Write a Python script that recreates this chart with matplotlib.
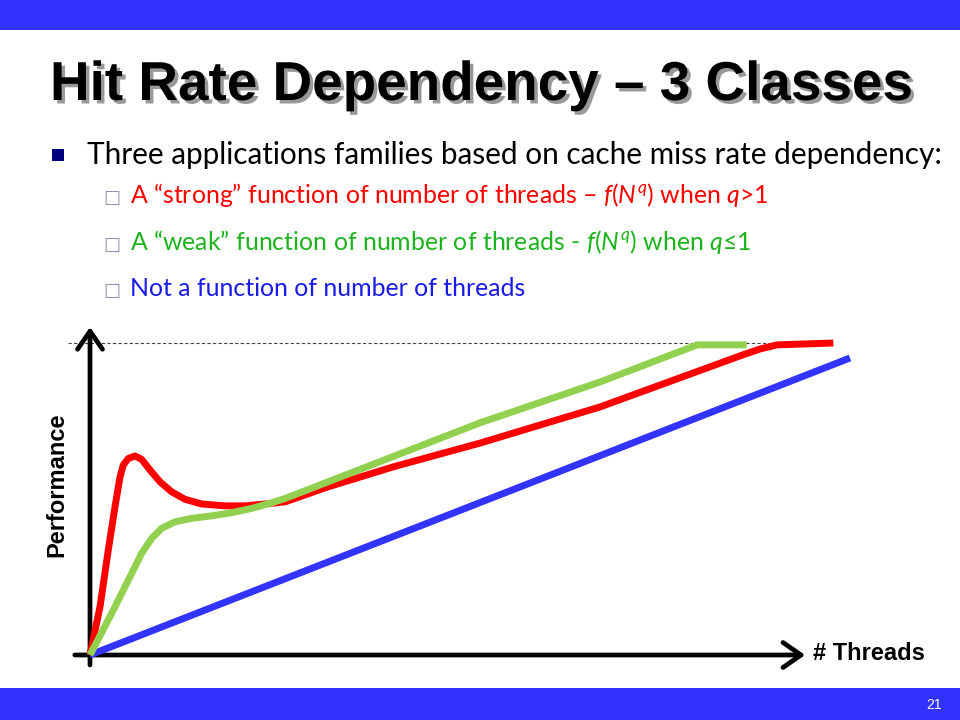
"""Slide: hit rate dependency, three application classes."""

import matplotlib
matplotlib.use('Agg')
import matplotlib.pyplot as plt
import matplotlib.patheffects as pe
from matplotlib.patches import Rectangle

# curves (threads, performance), 100 = saturation level
red_x = [0, 1.32, 2.41, 3.29, 3.95, 4.38, 5.04, 5.92, 6.80, 7.89, 9.21, 10.75,
         12.5, 14.7, 17.8, 20.4, 23.0, 25.7, 31.2, 39.9, 51.3, 67.1, 85.9,
         88.2, 90.4, 97.8]
red_y = [0, 15.5, 33.7, 47.5, 57.1, 60.9, 63.0, 63.8, 62.7, 59.3, 55.5, 52.3,
         49.9, 48.4, 47.8, 47.8, 48.4, 49.1, 53.8, 60.3, 67.9, 79.5, 96.2,
         98.1, 99.4, 100]
green_x = [0, 2.86, 5.04, 6.80, 8.12, 9.43, 11.2, 13.4, 16.0, 18.6, 21.3,
           23.9, 25.7, 51.3, 67.1, 79.9, 86.4]
green_y = [0, 13.4, 24.0, 32.6, 37.4, 40.6, 42.7, 43.8, 44.6, 45.6, 47.0,
           48.8, 50.2, 74.4, 87.5, 99.4, 99.4]
blue_x = [0, 100]
blue_y = [0, 95.2]
saturation = 100

title = 'Hit Rate Dependency \u2013 3 Classes'
bullet = 'Three applications families based on cache miss rate dependency:'
sub_bullets = [
    ('A \u201cstrong\u201d function of number of threads \u2013 '
     r'$\mathit{f}(\mathit{N}^{\mathit{q}})$ when $\mathit{q}$>1', '#FF0000'),
    ('A \u201cweak\u201d function of number of threads - '
     r'$\mathit{f}(\mathit{N}^{\mathit{q}})$ when $\mathit{q}$' + '\u22641',
     '#1DB31D'),
    ('Not a function of number of threads', '#1A1AE6'),
]

plt.rcParams['mathtext.fontset'] = 'custom'
plt.rcParams['mathtext.rm'] = 'Lato'
plt.rcParams['mathtext.it'] = 'Lato:italic'

W, H = 960, 720
fig = plt.figure(figsize=(9.6, 7.2), dpi=100)


def fx(px):
    return px / W


def fy(py):
    return 1 - py / H


# slide bars
fig.add_artist(Rectangle((0, fy(30)), 1, 30 / H, transform=fig.transFigure,
                         color='#3333FF', lw=0))
fig.add_artist(Rectangle((0, 0), 1, 32 / H, transform=fig.transFigure,
                         color='#3333FF', lw=0))
fig.text(fx(934), fy(705), '21', color='white', fontsize=10,
         family='Liberation Sans', ha='center', va='center')

# title with shadow
fig.text(fx(50), fy(100), title, fontsize=39.5, fontweight='bold',
         family='Liberation Sans', va='baseline',
         path_effects=[pe.SimplePatchShadow(offset=(2.5, -2.5), alpha=0.4),
                       pe.Normal()])

# bullets
fig.add_artist(Rectangle((fx(52), fy(161)), 12 / W, 12 / H,
                         transform=fig.transFigure, color='#000080', lw=0))
fig.text(fx(87), fy(164), bullet, fontsize=21.4,
         family=['Lato', 'DejaVu Sans'], va='baseline')
for i, (txt, col) in enumerate(sub_bullets):
    base = 203 + i * 46.5
    fig.text(fx(103), fy(base), '\u25a1', fontsize=13, color='#9090B0',
             family='DejaVu Sans', va='baseline')
    fig.text(fx(130), fy(base), txt, fontsize=17.9, color=col,
             family=['Lato', 'DejaVu Sans'], va='baseline')

# chart: x=0 at px 90 (7.6 px/unit), y=0 at px 655 (3.12 px/unit)
ax = fig.add_axes([fx(40), fy(680), 860 / W, 370 / H])
ax.set_xlim((40 - 90) / 7.6, (900 - 90) / 7.6)
ax.set_ylim((655 - 680) / 3.12, (655 - 310) / 3.12)
ax.axis('off')

ax.plot([-2.9, 92], [saturation, saturation], color='#444444', lw=0.8,
        ls=(0, (3, 2)), zorder=1)

arrow = dict(arrowstyle='->, head_length=0.65, head_width=0.45', lw=3.4,
             color='black', mutation_scale=20, shrinkA=0, shrinkB=0)
ax.annotate('', xy=(94.1, 0), xytext=(-2.0, 0), arrowprops=arrow, zorder=2)
ax.annotate('', xy=(0, 105.1), xytext=(0, -3.2), arrowprops=arrow, zorder=2)

ax.plot(blue_x, blue_y, color='#3333FF', lw=5, solid_capstyle='butt',
        zorder=3)
ax.plot(red_x, red_y, color='#FF0000', lw=5, solid_joinstyle='round',
        solid_capstyle='butt', zorder=4)
ax.plot(green_x, green_y, color='#92D050', lw=5, solid_joinstyle='round',
        solid_capstyle='butt', zorder=5)

fig.text(fx(813), fy(660), '# Threads', fontsize=17, fontweight='bold',
         family='Liberation Sans', va='baseline')
fig.text(fx(57), fy(485), 'Performance', fontsize=17, fontweight='bold',
         family='Liberation Sans', rotation=90, ha='center', va='center')

fig.savefig('out.png', dpi=100)
